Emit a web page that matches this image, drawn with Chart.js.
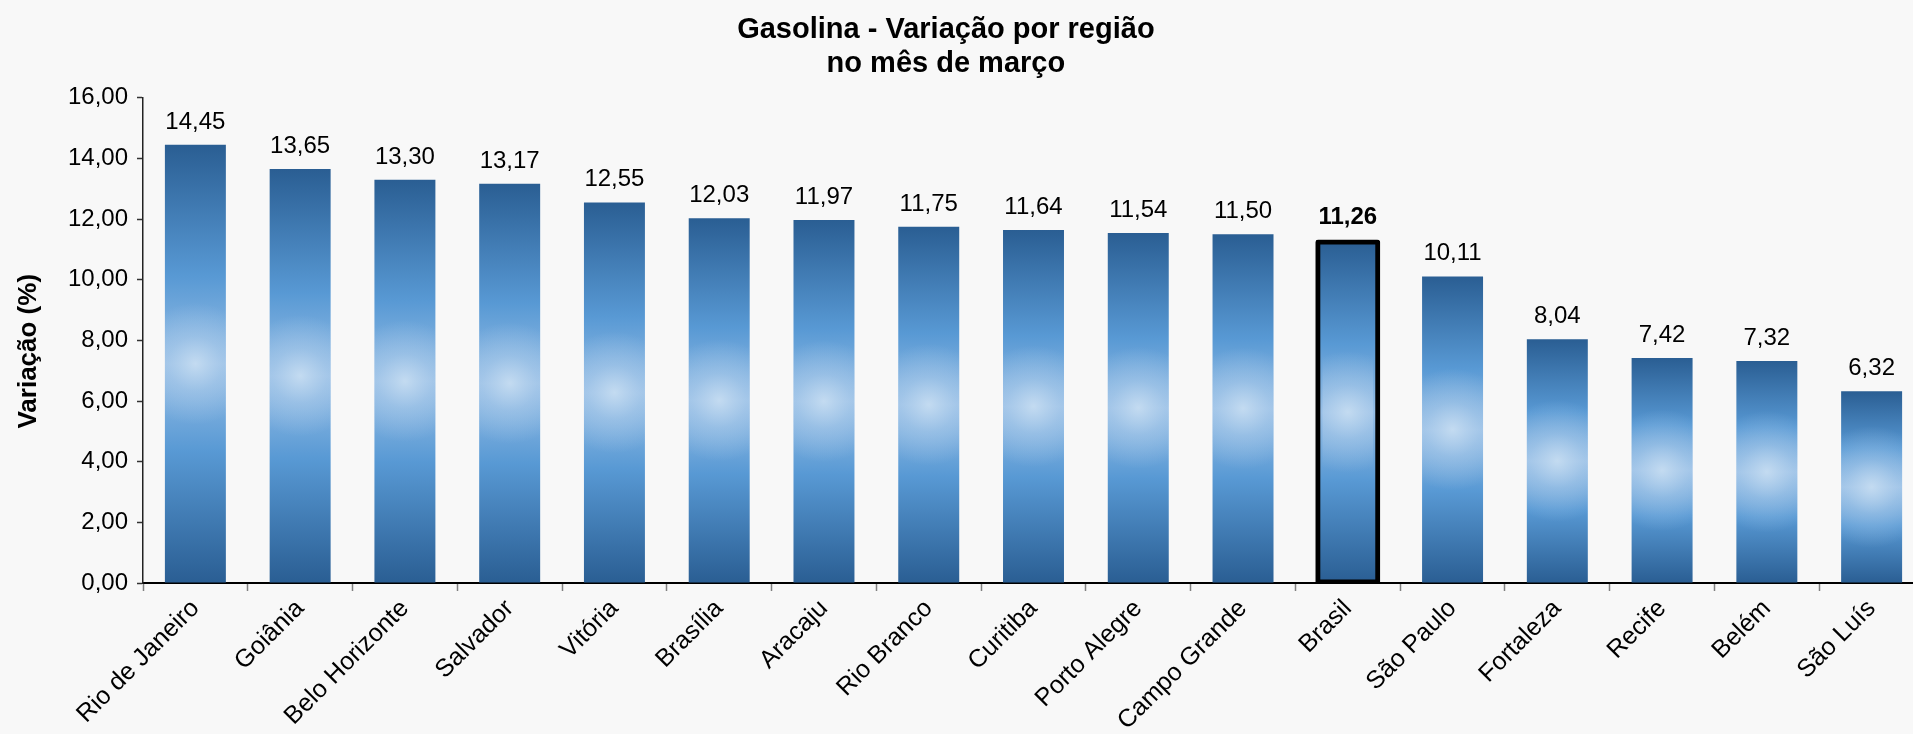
<!DOCTYPE html>
<html>
<head>
<meta charset="utf-8">
<script src="https://cdn.jsdelivr.net/npm/chart.js@4"></script>
<style>
  html, body { margin: 0; padding: 0; background: #f8f8f8; overflow: hidden; }
</style>
</head>
<body>
<canvas id="gasChart" width="1924" height="734"></canvas>
<script>
const regioes = ['Rio de Janeiro', 'Goiânia', 'Belo Horizonte', 'Salvador', 'Vitória', 'Brasília',
  'Aracaju', 'Rio Branco', 'Curitiba', 'Porto Alegre', 'Campo Grande', 'Brasil', 'São Paulo',
  'Fortaleza', 'Recife', 'Belém', 'São Luís'];
const variacao = [14.45, 13.65, 13.30, 13.17, 12.55, 12.03, 11.97, 11.75, 11.64, 11.54, 11.50,
  11.26, 10.11, 8.04, 7.42, 7.32, 6.32];
const destaque = 'Brasil';
const yTicks = [0, 2, 4, 6, 8, 10, 12, 14, 16];

const fmt = v => v.toFixed(2).replace('.', ',');
const FONT = "'Liberation Sans', Arial, sans-serif";

window.onload = function () {
  const ctx = document.getElementById('gasChart').getContext('2d');

  // vertical gradient per bar, dark at both ends, pale in the middle
  function barFill(c) {
    const chart = c.chart;
    const y = chart.scales.y;
    if (!y || !c.parsed) return '#4a87c5';
    const top = y.getPixelForValue(c.parsed.y);
    const base = y.getPixelForValue(0);
    if (!isFinite(top) || !isFinite(base) || top === base) return '#4a87c5';
    const g = chart.ctx.createLinearGradient(0, top, 0, base);
    g.addColorStop(0, '#2a5e93');
    g.addColorStop(0.3, '#5899d4');
    g.addColorStop(0.5, '#98bfe6');
    g.addColorStop(0.7, '#5899d4');
    g.addColorStop(1, '#2a5e93');
    return g;
  }

  // radial glow in the middle of each bar + value labels
  const barExtras = {
    id: 'barExtras',
    afterDatasetsDraw(chart) {
      const c = chart.ctx;
      const meta = chart.getDatasetMeta(0);
      meta.data.forEach((el, i) => {
        const isMain = regioes[i] === destaque;
        const bw = isMain ? 5 : 0;
        const left = el.x - el.width / 2 + bw;
        const right = el.x + el.width / 2 - bw;
        const top = el.y + bw;
        const bottom = el.base - bw;
        const cy = (el.y + el.base) / 2;
        c.save();
        c.beginPath();
        c.rect(left, top, right - left, bottom - top);
        c.clip();
        const r = c.createRadialGradient(el.x, cy, 0, el.x, cy, el.width * 1.0);
        r.addColorStop(0, 'rgba(200,222,242,0.9)');
        r.addColorStop(0.45, 'rgba(185,212,238,0.4)');
        r.addColorStop(1, 'rgba(185,212,238,0)');
        c.fillStyle = r;
        c.fillRect(left, top, right - left, bottom - top);
        c.restore();

        c.save();
        c.fillStyle = '#000';
        c.textAlign = 'center';
        c.textBaseline = 'alphabetic';
        c.font = (isMain ? 'bold ' : '') + '24px ' + FONT;
        c.fillText(fmt(variacao[i]), el.x, el.y - (isMain ? 18 : 16));
        c.restore();
      });
    }
  };

  new Chart(ctx, {
    type: 'bar',
    data: {
      labels: regioes,
      datasets: [{
        label: 'Variação (%)',
        data: variacao,
        backgroundColor: barFill,
        borderColor: '#000',
        borderWidth: c => regioes[c.dataIndex] === destaque ? 5 : 0,
        inflateAmount: c => regioes[c.dataIndex] === destaque ? 2 : 0,
        borderRadius: c => regioes[c.dataIndex] === destaque ? 3 : 0,
        borderSkipped: false,
        barPercentage: 0.582,
        categoryPercentage: 1
      }]
    },
    options: {
      responsive: false,
      animation: false,
      layout: { padding: 0 },
      plugins: {
        legend: { display: false },
        tooltip: { enabled: false },
        title: {
          display: true,
          // trailing spaces nudge the centred title a little left, as in the original
          text: ['Gasolina - Variação por região    ', 'no mês de março    '],
          color: '#000',
          font: { family: FONT, size: 29, weight: 'bold', lineHeight: 1.17 },
          padding: { top: 13, bottom: 17 }
        }
      },
      scales: {
        x: {
          grid: {
            display: true,
            drawOnChartArea: false,
            drawTicks: true,
            tickLength: 8,
            tickWidth: 1.5,
            tickColor: '#808080'
          },
          border: { display: true, color: '#000', width: 2 },
          ticks: {
            color: '#000',
            font: { family: FONT, size: 25 },
            minRotation: 45,
            maxRotation: 45,
            autoSkip: false,
            padding: 3
          },
          afterFit(scale) { scale.height = 151; }
        },
        y: {
          min: 0,
          max: 16,
          afterBuildTicks(scale) { scale.ticks = yTicks.map(v => ({ value: v })); },
          grid: {
            display: true,
            drawOnChartArea: false,
            drawTicks: true,
            tickLength: 6,
            tickWidth: 1.5,
            tickColor: '#333'
          },
          border: { display: true, color: '#222', width: 1.5 },
          ticks: {
            color: '#000',
            font: { family: FONT, size: 24 },
            padding: 9,
            callback: v => fmt(v)
          },
          title: {
            display: true,
            text: 'Variação (%)   ',
            color: '#000',
            font: { family: FONT, size: 26, weight: 'bold' },
            padding: { top: 13, bottom: 0 }
          },
          afterFit(scale) { scale.width = 143; }
        }
      }
    },
    plugins: [barExtras]
  });
};
</script>
</body>
</html>
